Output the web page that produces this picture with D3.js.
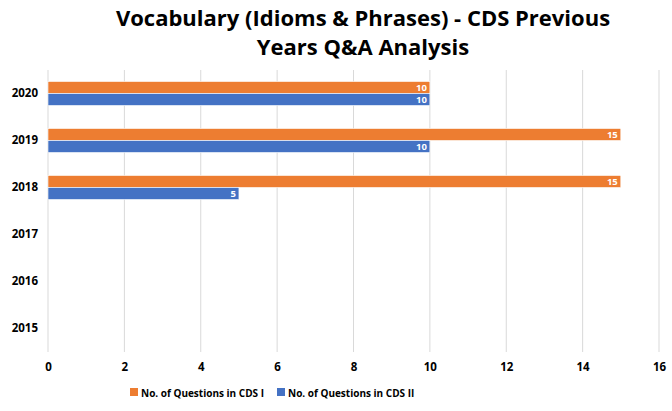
<!DOCTYPE html>
<html>
<head>
<meta charset="utf-8">
<script src="https://cdn.jsdelivr.net/npm/d3@7"></script>
<style>
  body { margin: 0; background: #fff; }
  text { font-family: "Open Sans", "Liberation Sans", sans-serif; }
</style>
</head>
<body>
<div id="chart"></div>
<script>
// data
var years = ["2020", "2019", "2018", "2017", "2016", "2015"];
var cds1 = [10, 15, 15, 0, 0, 0];
var cds2 = [10, 10, 5, 0, 0, 0];
var seriesNames = ["No. of Questions in CDS I", "No. of Questions in CDS II"];
var xTicks = [0, 2, 4, 6, 8, 10, 12, 14, 16];

var w = 672, h = 411;
var colors = ["#ed7d31", "#4472c4"];

var svg = d3.select("#chart").append("svg")
    .attr("width", w)
    .attr("height", h);

// title, two lines
var title = svg.append("text")
    .attr("text-anchor", "middle")
    .attr("font-weight", "bold")
    .attr("font-size", 22)
    .attr("fill", "#000");
title.append("tspan").attr("x", 363).attr("y", 26).text("Vocabulary (Idioms & Phrases) - CDS Previous");
title.append("tspan").attr("x", 363).attr("y", 55).text("Years Q&A Analysis");

var x = d3.scaleLinear().domain([0, 16]).range([48, 659]);
var y = d3.scaleBand().domain(years).range([70, 352]);
var inner = d3.scaleBand().domain([0, 1]).range([0, 24]);

// gridlines
svg.append("g").selectAll("line").data(xTicks).enter().append("line")
    .attr("x1", function (d) { return x(d); })
    .attr("x2", function (d) { return x(d); })
    .attr("y1", 70)
    .attr("y2", 352)
    .attr("stroke", "#d9d9d9")
    .attr("stroke-width", 1);

// x axis labels
var xAxis = svg.append("g")
    .attr("transform", "translate(0,352)")
    .call(d3.axisBottom(x).tickValues(xTicks).tickSize(0).tickPadding(11));
xAxis.select(".domain").remove();
xAxis.selectAll("text")
    .attr("font-size", 11.5)
    .attr("font-weight", "bold")
    .attr("fill", "#000")
    .style("font-family", "'Open Sans', sans-serif");

// y axis labels
var yAxis = svg.append("g")
    .attr("transform", "translate(38,0)")
    .call(d3.axisLeft(y).tickSize(0).tickPadding(0));
yAxis.select(".domain").remove();
yAxis.selectAll("text")
    .attr("font-size", 11.5)
    .attr("font-weight", "bold")
    .attr("fill", "#000")
    .style("font-family", "'Open Sans', sans-serif");

// bars
var series = [cds1, cds2];
series.forEach(function (vals, si) {
    var g = svg.append("g");
    var rows = years.map(function (yr, i) { return { year: yr, value: vals[i] }; })
        .filter(function (d) { return d.value > 0; });

    g.selectAll("rect").data(rows).enter().append("rect")
        .attr("x", x(0))
        .attr("y", function (d) { return y(d.year) + y.bandwidth() / 2 - 12 + inner(si); })
        .attr("width", function (d) { return x(d.value) - x(0); })
        .attr("height", inner.bandwidth())
        .attr("fill", colors[si])
        .attr("stroke", "#fff")
        .attr("stroke-width", 0.6);

    g.selectAll("text").data(rows).enter().append("text")
        .attr("x", function (d) { return x(d.value) - 3; })
        .attr("y", function (d) { return y(d.year) + y.bandwidth() / 2 - 12 + inner(si) + inner.bandwidth() / 2 + 3.5; })
        .attr("text-anchor", "end")
        .attr("font-size", 9.5)
        .attr("font-weight", "bold")
        .attr("fill", "#fff")
        .text(function (d) { return d.value; });
});

// legend
var legX = [130, 277];
var leg = svg.append("g").selectAll("g").data(seriesNames).enter().append("g")
    .attr("transform", function (d, i) { return "translate(" + legX[i] + ",393)"; });
leg.append("rect")
    .attr("x", 0).attr("y", -5)
    .attr("width", 8).attr("height", 8)
    .attr("fill", function (d, i) { return colors[i]; });
leg.append("text")
    .attr("x", 11).attr("y", 4)
    .attr("font-size", 10)
    .attr("font-weight", "bold")
    .attr("fill", "#000")
    .text(function (d) { return d; });
</script>
</body>
</html>
